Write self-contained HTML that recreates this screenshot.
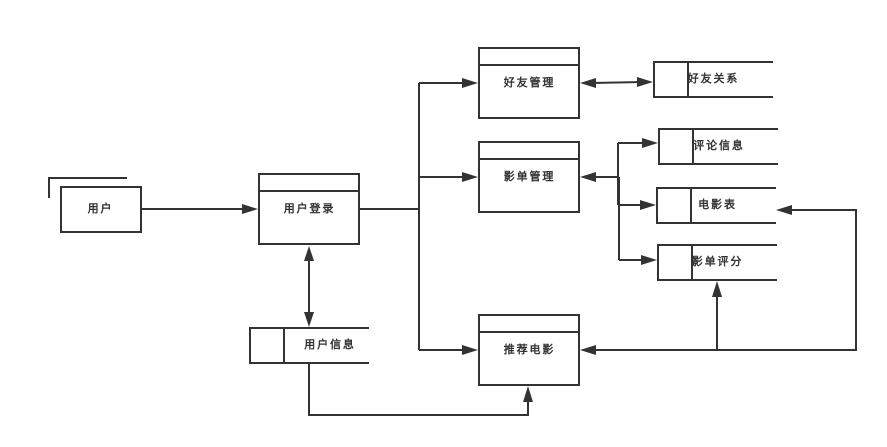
<!DOCTYPE html>
<html><head><meta charset="utf-8"><style>
html,body{margin:0;padding:0;background:#fff;width:887px;height:447px;overflow:hidden}
svg{display:block}
text{font-family:"Liberation Sans","WenQuanYi Zen Hei","Noto Sans CJK SC",sans-serif;font-size:11px;letter-spacing:1.9px;fill:#333;text-anchor:middle;dominant-baseline:central;stroke:#333;stroke-width:.45px}
.s{fill:none;stroke:#333;stroke-width:2}
.a{fill:#333;stroke:none}
</style></head><body>
<svg width="887" height="447" viewBox="0 0 887 447" xmlns="http://www.w3.org/2000/svg">
<path class="s" d="M49 198V178H127"/>
<rect class="s" x="61" y="187" width="80" height="45"/>
<rect class="s" x="259" y="174" width="100" height="70"/><path class="s" d="M259 191H359"/>
<rect class="s" x="479" y="48" width="100" height="70"/><path class="s" d="M479 65H579"/>
<rect class="s" x="479" y="142" width="100" height="70"/><path class="s" d="M479 159H579"/>
<rect class="s" x="479" y="315" width="100" height="70"/><path class="s" d="M479 332H579"/>
<path class="s" d="M369 328H250V363H369M284 328V363"/>
<path class="s" d="M773 62H654V97H773M688 62V97"/>
<path class="s" d="M778 129H659V164H778M693 129V164"/>
<path class="s" d="M776 188H657V223H776M691 188V223"/>
<path class="s" d="M777 245H658V280H777M692 245V280"/>
<path class="s" d="M141 209H245"/>
<path class="a" d="M258 209L242 204V214Z"/>
<path class="s" d="M309 258V315"/>
<path class="a" d="M309 246L304 261H314Z"/><path class="a" d="M309 327L304 312H314Z"/>
<path class="s" d="M359 209H419M419 83V350M419 83H465M419 177H465M419 350H465"/>
<path class="a" d="M478 83L462 78V88Z"/><path class="a" d="M478 177L462 172V182Z"/><path class="a" d="M478 350L462 345V355Z"/>
<path class="s" d="M309 363V415H528V400"/>
<path class="a" d="M528 386L523 402H533Z"/>
<path class="s" d="M592 83L640 82"/>
<path class="a" d="M580 83L596 78V88Z"/><path class="a" d="M653 82L637 77V87Z"/>
<path class="s" d="M592 177H618.500M618 143V205M619 177V260M618 143H645M618 205H643M619 260H644"/>
<path class="a" d="M580 177L596 172V182Z"/><path class="a" d="M658 143L642 138V148Z"/><path class="a" d="M656 205L640 200V210Z"/><path class="a" d="M657 260L641 255V265Z"/>
<path class="s" d="M592 350H856V210H790M717 350V295"/>
<path class="a" d="M580 350L596 345V355Z"/><path class="a" d="M776 210L792 205V215Z"/><path class="a" d="M717 281L712 297H722Z"/>
<text x="100.500" y="209">用户</text>
<text x="309.500" y="209">用户登录</text>
<text x="330" y="345">用户信息</text>
<text x="529.500" y="83">好友管理</text>
<text x="529.500" y="177">影单管理</text>
<text x="529.500" y="350">推荐电影</text>
<text x="713.500" y="79">好友关系</text>
<text x="719" y="146">评论信息</text>
<text x="717.500" y="205">电影表</text>
<text x="717.500" y="262">影单评分</text>
</svg>
</body></html>
